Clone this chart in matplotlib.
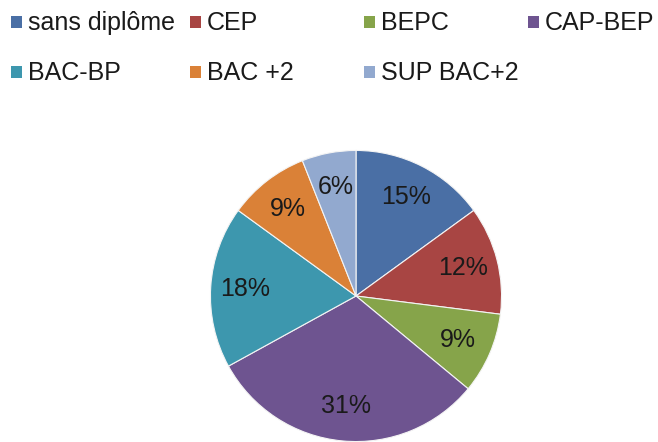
import matplotlib.pyplot as plt
from matplotlib.patches import Rectangle

labels = ["sans diplôme", "CEP", "BEPC", "CAP-BEP", "BAC-BP", "BAC +2", "SUP BAC+2"]
values = [15, 12, 9, 31, 18, 9, 6]
colors = ["#4A6FA5", "#A84543", "#86A44A", "#6E5490", "#3D97AE", "#DA8137", "#92A9CF"]

plt.rcParams['font.family'] = ['Liberation Sans', 'DejaVu Sans']

W, H = 658, 442
fig = plt.figure(figsize=(W / 100, H / 100), dpi=100)

# pie placed by pixel: center (356, 296), radius 147
cx, cy, r = 356, 296, 147
ax = fig.add_axes([(cx - r) / W, (H - cy - r) / H, 2 * r / W, 2 * r / H])
ax.pie(values, colors=colors, startangle=90, counterclock=False,
       autopct='%1.0f%%', pctdistance=0.76, radius=1,
       wedgeprops=dict(edgecolor='#f4f4f4', linewidth=0.8),
       textprops=dict(fontsize=18, color='#1a1a1a'))
ax.set_xlim(-1.01, 1.01)
ax.set_ylim(-1.01, 1.01)
ax.set_aspect('equal')
ax.axis('off')

# legend laid out as a grid like the original
col_x = [11, 190, 364, 528]
row_y = [22, 72]
for i, (lab, col) in enumerate(zip(labels, colors)):
    x = col_x[i % 4]
    y = row_y[i // 4]
    fig.patches.append(Rectangle((x / W, 1 - (y + 5.5) / H), 11 / W, 11 / H,
                                 transform=fig.transFigure, facecolor=col,
                                 edgecolor='none'))
    fig.text((x + 17) / W, 1 - (y + 1) / H, lab, fontsize=18, va='center',
             ha='left', color='#1a1a1a')

fig.savefig("out.png", dpi=100)
